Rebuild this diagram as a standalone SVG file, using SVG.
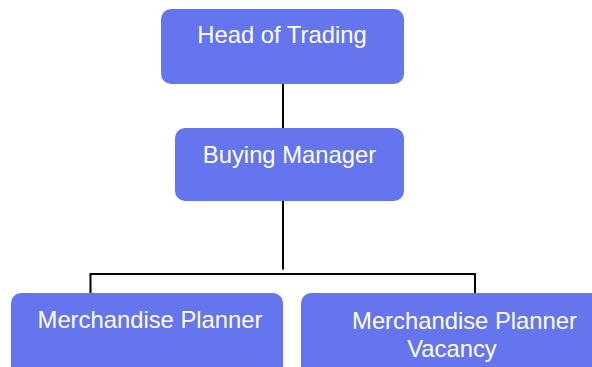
<svg xmlns="http://www.w3.org/2000/svg" width="592" height="367" viewBox="0 0 592 367">
  <style>
    .box { fill: #6475EE; }
    .label { font-family: "Liberation Sans", Arial, sans-serif; font-size: 23.8px; fill: #FFFFFF; }
    .mid { text-anchor: middle; }
    .wire { fill: none; stroke: #000000; stroke-width: 2; }
  </style>
  <rect width="592" height="367" fill="#FFFFFF"/>

  <!-- reporting lines -->
  <g id="connectors">
    <line class="wire" x1="283" y1="84" x2="283" y2="128"/>
    <line class="wire" x1="283" y1="201" x2="283" y2="269.5"/>
    <polyline class="wire" points="90.5,299 90.5,274 475,274 475,299"/>
  </g>

  <g id="head-of-trading">
    <rect class="box" x="161" y="9" width="243" height="75" rx="10" ry="10"/>
    <text class="label mid" x="282" y="43">Head of Trading</text>
  </g>

  <g id="buying-manager">
    <rect class="box" x="175" y="128" width="229" height="73" rx="10" ry="10"/>
    <text class="label mid" x="289.5" y="163">Buying Manager</text>
  </g>

  <g id="merchandise-planner">
    <rect class="box" x="11" y="293" width="272" height="90" rx="10" ry="10"/>
    <text class="label mid" x="150" y="328">Merchandise Planner</text>
  </g>

  <g id="merchandise-planner-vacancy">
    <rect class="box" x="301" y="293" width="302" height="90" rx="10" ry="10"/>
    <text class="label mid" x="464.5" y="329">Merchandise Planner</text>
    <text class="label mid" x="452" y="357">Vacancy</text>
  </g>
</svg>
